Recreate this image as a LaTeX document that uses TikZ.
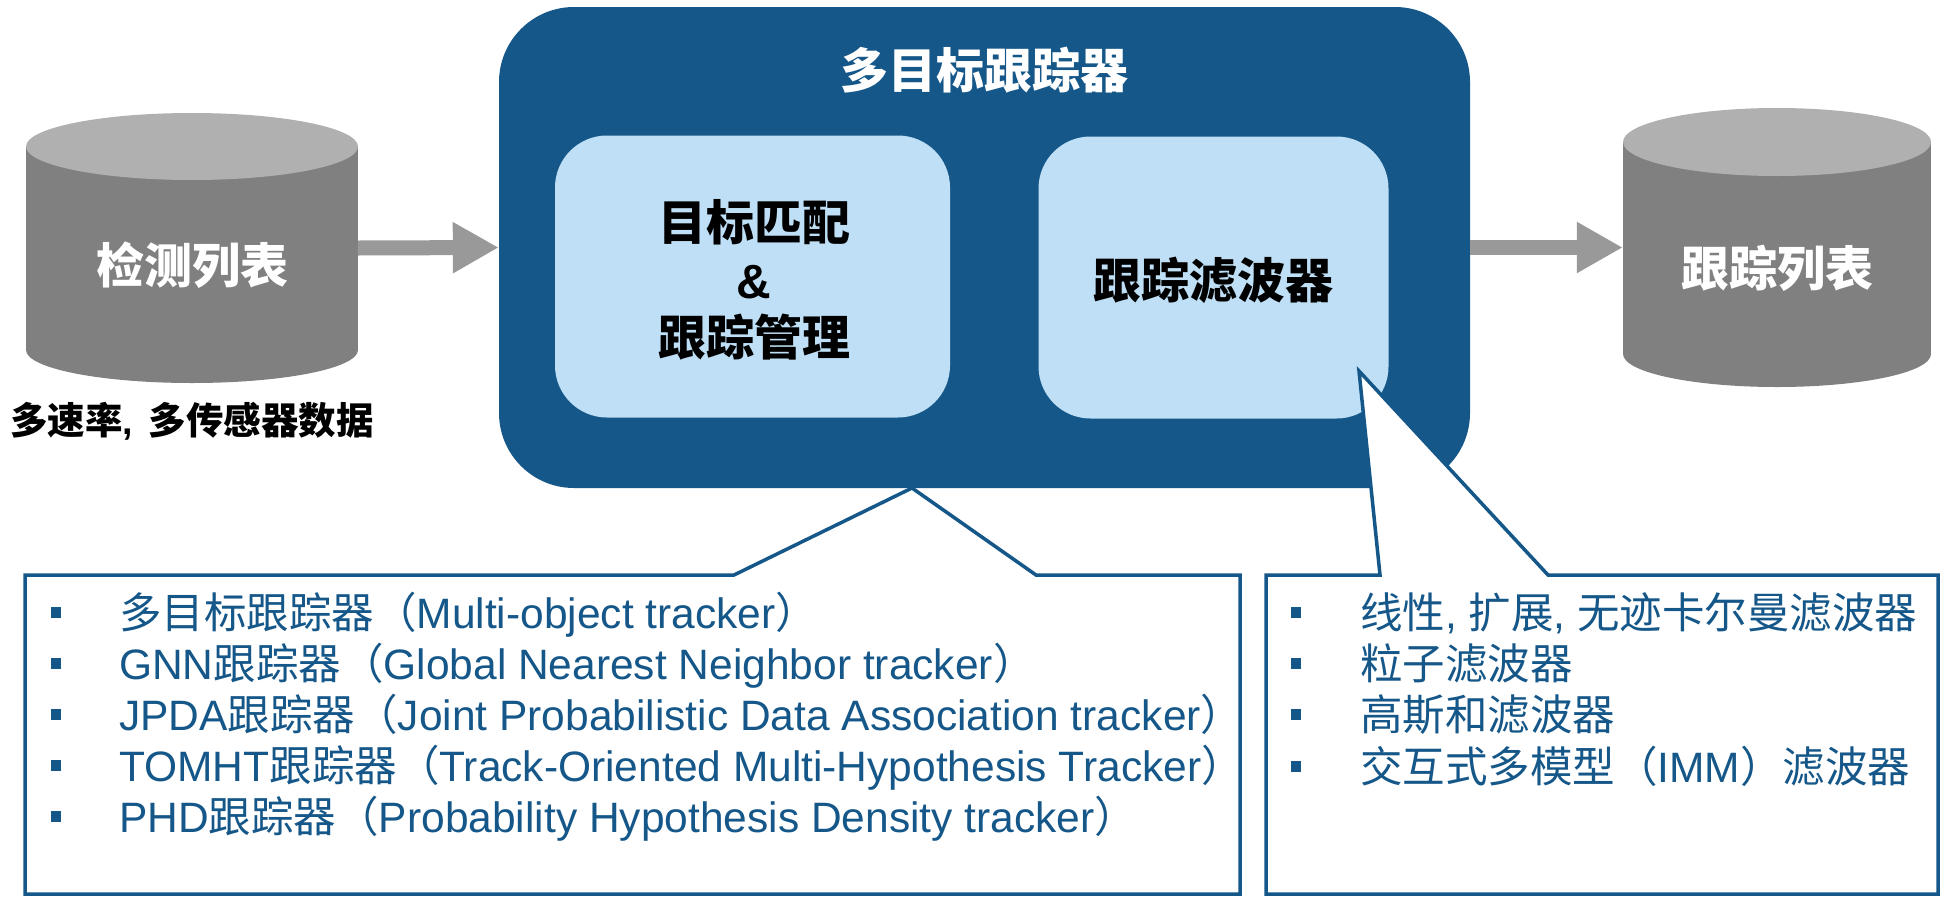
\documentclass[tikz,border=0pt]{standalone}
\usepackage{fontspec}
\setmainfont{Liberation Sans}
\newfontfamily\cjk{Noto Sans CJK SC}
\usetikzlibrary{arrows.meta}
\definecolor{dblue}{RGB}{21,87,137}
\definecolor{lblue}{RGB}{190,223,245}
\definecolor{cylbodyc}{RGB}{128,128,128}
\definecolor{cyltopc}{RGB}{176,176,176}
\definecolor{arrowgray}{RGB}{153,153,153}
\newcommand\zh[1]{{\cjk #1}}
\tikzset{
  bigtxt/.style={inner sep=0pt, font=\fontsize{48}{57.5}\selectfont\bfseries, align=center},
  innerbox/.style={fill=lblue, rounded corners=52pt, inner sep=0pt, minimum height=282pt},
  garrow/.style={draw=arrowgray, line width=15pt, -{Triangle[length=46pt,width=48pt]}},
  callout/.style={fill=white, draw=dblue, line width=3.5pt, line join=miter},
  item/.style={anchor=base west, inner sep=0pt, text=dblue, font=\fontsize{42.5}{50}\selectfont},
  bul/.style={fill=dblue, inner sep=0pt, minimum width=10pt, minimum height=11pt},
  cylslot/.style={inner sep=0pt}
}
\begin{document}
\begin{tikzpicture}[x=1pt,y=-1pt]
\useasboundingbox (0,0) rectangle (1942,897);
% left cylinder
\fill[cylbodyc] (26,146.5) rectangle (358,350);
\fill[cylbodyc] (192,350) ellipse [x radius=166pt, y radius=33pt];
\fill[cyltopc] (192,146.5) ellipse [x radius=166pt, y radius=33.5pt];
\node[cylslot, minimum width=332pt, minimum height=270pt] (det) at (192,248) {};
\node[bigtxt, text=white] (dettxt) at (192,265) {\zh{检测列表}};
\node[inner sep=0pt, font=\fontsize{37.5}{45}\selectfont\bfseries] (detlbl) at (192,421) {\zh{多速率},\hspace{16pt}\zh{多传感器数据}};
% right cylinder
\fill[cylbodyc] (1623,142) rectangle (1931,354);
\fill[cylbodyc] (1777,354) ellipse [x radius=154pt, y radius=33pt];
\fill[cyltopc] (1777,142) ellipse [x radius=154pt, y radius=34pt];
\node[cylslot, minimum width=308pt, minimum height=279pt] (trk) at (1777,247.5) {};
\node[bigtxt, text=white] (trktxt) at (1777,268) {\zh{跟踪列表}};
% main box
\node[fill=dblue, rounded corners=75pt, inner sep=0pt, minimum width=971pt, minimum height=481pt] (main) at (984.5,247.5) {};
\node[bigtxt, text=white] (title) at (984.5,70) {\zh{多目标跟踪器}};
\node[innerbox, minimum width=395pt] (assoc) at (752.5,276.5) {};
\node[bigtxt] (assoctxt) at (754,280) {\zh{目标匹配}\\\&\\\zh{跟踪管理}};
\node[innerbox, minimum width=350pt] (filt) at (1213.5,277.5) {};
\node[bigtxt] (filttxt) at (1213,280) {\zh{跟踪滤波器}};
% arrows
\draw[garrow] (det.east) -- (main.west);
\draw[garrow] (main.east) -- (trk.west);
% callouts
\coordinate (apexL) at (912,488);
\coordinate (apexR) at (1359,371);
\draw[callout] (25,575) -- (734,575) -- (apexL) -- (1036,575) -- (1240,575) -- (1240,894) -- (25,894) -- cycle;
\draw[callout] (1266,575) -- (1380,575) -- (apexR) -- (1548,575) -- (1938,575) -- (1938,894) -- (1266,894) -- cycle;
% left items
\node[bul] (lb1) at (56,612) {};
\node[bul] (lb2) at (56,663) {};
\node[bul] (lb3) at (56,714) {};
\node[bul] (lb4) at (56,765) {};
\node[bul] (lb5) at (56,816) {};
\node[item] (l1) at (119,628) {\zh{多目标跟踪器（}Multi-object tracker\zh{）}};
\node[item] (l2) at (119,679) {GNN\zh{跟踪器（}Global Nearest Neighbor tracker\zh{）}};
\node[item] (l3) at (119,730) {JPDA\zh{跟踪器（}Joint Probabilistic Data Association tracker\zh{）}};
\node[item] (l4) at (119,781) {TOMHT\zh{跟踪器（}Track-Oriented Multi-Hypothesis Tracker\zh{）}};
\node[item] (l5) at (119,832) {PHD\zh{跟踪器（}Probability Hypothesis Density tracker\zh{）}};
% right items
\node[bul] (rb1) at (1296,612) {};
\node[bul] (rb2) at (1296,663) {};
\node[bul] (rb3) at (1296,714) {};
\node[bul] (rb4) at (1296,766) {};
\node[item] (r1) at (1360,628) {\zh{线性}, \zh{扩展}, \zh{无迹卡尔曼滤波器}};
\node[item] (r2) at (1360,679) {\zh{粒子滤波器}};
\node[item] (r3) at (1360,730) {\zh{高斯和滤波器}};
\node[item] (r4) at (1360,782) {\zh{交互式多模型（}IMM\zh{）滤波器}};
\end{tikzpicture}
\end{document}
